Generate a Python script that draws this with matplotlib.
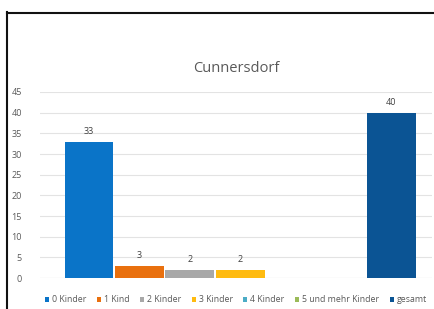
import numpy as np
import matplotlib.pyplot as plt
from matplotlib.lines import Line2D
from matplotlib.patches import Patch

# Cunnersdorf - Kinder pro Haushalt
categories = ["0 Kinder", "1 Kind", "2 Kinder", "3 Kinder", "4 Kinder",
              "5 und mehr Kinder", "gesamt"]
values = [33, 3, 2, 2, np.nan, np.nan, 40]
colors = ["#0A74C8", "#E9700E", "#A8A8A8", "#FFBB10", "#4BACC6",
          "#9BBB59", "#0B5494"]
yticks = list(range(0, 50, 5))

plt.rcParams['font.family'] = ['Open Sans', 'DejaVu Sans']

fig = plt.figure(figsize=(4.35, 3.09), dpi=100)
W, H = 435, 309
ax = fig.add_axes([40 / W, (H - 278) / H, (432 - 40) / W, (278 - 92) / H])

x = np.arange(len(categories))
for i, (v, c) in enumerate(zip(values, colors)):
    if np.isnan(v):
        continue
    ax.bar(x[i], v, width=0.965, color=c, zorder=3)
    ax.text(x[i], v + 1.4, str(int(v)), ha='center', va='bottom',
            fontsize=6.5, color='#404040')

ax.set_xlim((40 - 89) / 50.4, (432 - 89) / 50.4)
ax.set_ylim(0, 45)
ax.set_yticks(yticks)
ax.set_yticklabels([str(t) for t in yticks], fontsize=6.5, color='#595959')
ax.set_xticks([])
ax.tick_params(axis='y', length=0, pad=13)
for sp in ax.spines.values():
    sp.set_visible(False)
ax.grid(axis='y', color='#E3E3E3', linewidth=0.8, zorder=0)
ax.axhline(0, color='#D9D9D9', linewidth=0.8, zorder=2)

fig.text(236 / W, (H - 68) / H, "Cunnersdorf", ha='center', va='center',
         fontsize=10.5, color='#595959')

handles = [Patch(facecolor=c, edgecolor='none') for c in colors]
fig.legend(handles, categories, loc='center', ncol=7,
           bbox_to_anchor=(236 / W, (H - 300) / H), frameon=False,
           fontsize=6.3, handlelength=0.45, handleheight=0.45,
           handletextpad=0.35, columnspacing=1.2, labelcolor='#595959')

# outer frame (cropped screenshot)
fig.add_artist(Line2D([7.5 / W, 7.5 / W], [0, (H - 12) / H], color='#111111',
                      linewidth=1.5, transform=fig.transFigure))
fig.add_artist(Line2D([7 / W, 1], [(H - 12.5) / H, (H - 12.5) / H],
                      color='#111111', linewidth=1.5, transform=fig.transFigure))

fig.savefig("out.png", dpi=100)
